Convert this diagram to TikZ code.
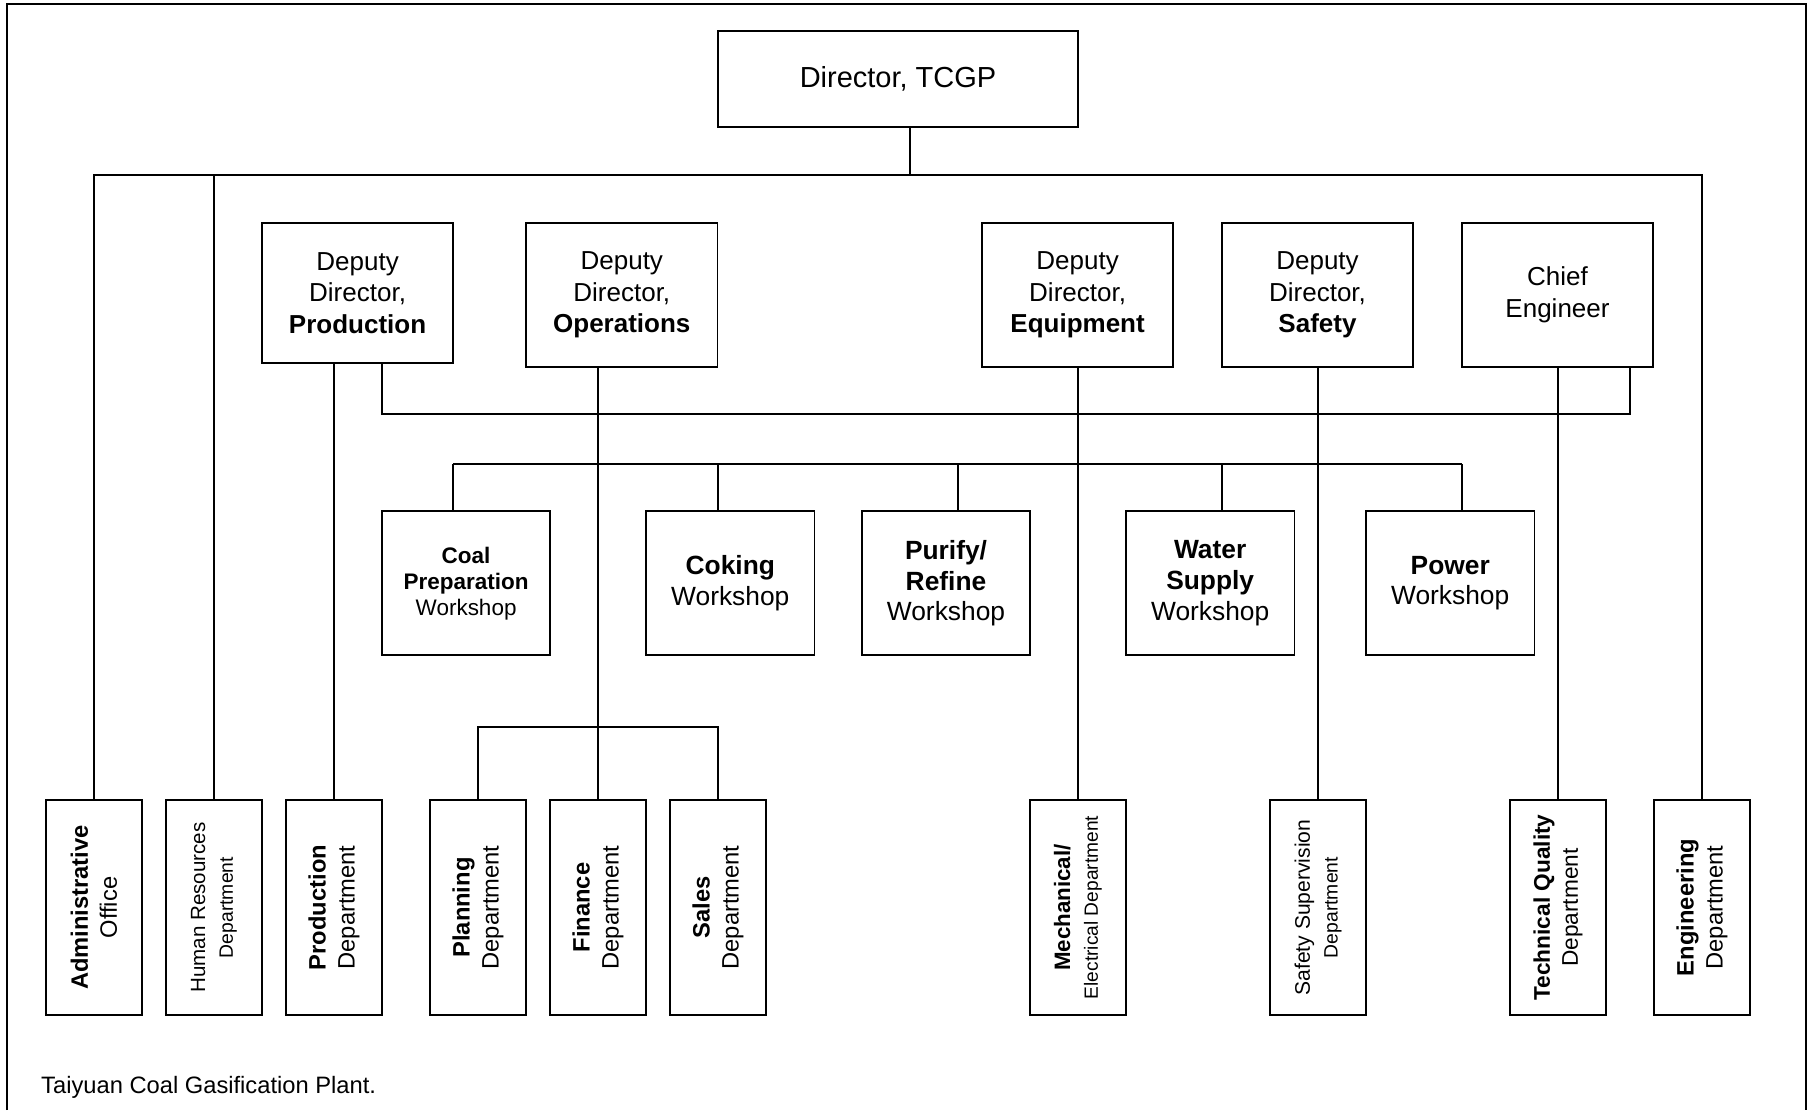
\documentclass[tikz,border=0pt]{standalone}
\usepackage{fontspec}
\setmainfont{Liberation Sans}
\usepackage{tikz}

\begin{document}
\begin{tikzpicture}[x=0.02cm, y=-0.02cm,
  box/.style={draw, line width=1pt, align=center, inner sep=0pt},
  head/.style={box, minimum width=7.2cm, minimum height=1.92cm, font=\fontsize{16.5}{20}\selectfont},
  deputy/.style={box, minimum width=3.83cm, minimum height=2.88cm, font=\fontsize{14.8}{18}\selectfont},
  shop/.style={box, minimum width=3.37cm, minimum height=2.88cm, font=\fontsize{15}{17.4}\selectfont},
  dept/.style={box, rotate=90, minimum width=4.3cm, minimum height=1.92cm, font=\fontsize{13.5}{16.5}\selectfont},
  link/.style={line width=0.7pt}]
     \useasboundingbox (0,0) rectangle (1809,1110);
     \draw [line width=1pt] (7,1110) -- (7,4) -- (1806,4) -- (1806,1110);
     % director and deputies
     \node [head] (dir) at (898,79) {Director, TCGP};
     \node [deputy, minimum height=2.81cm] (dprod) at (357.6,292.9) {Deputy\\Director,\\\textbf{Production}};
     \node [deputy] (dops) at (621.8,294.8) {Deputy\\Director,\\\textbf{Operations}};
     \node [deputy] (deqp) at (1077.6,294.8) {Deputy\\Director,\\\textbf{Equipment}};
     \node [deputy] (dsaf) at (1317.5,294.8) {Deputy\\Director,\\\textbf{Safety}};
     \node [deputy] (ceng) at (1557.5,294.8) {Chief\\Engineer};
     % workshops
     \node [shop, font=\fontsize{12.8}{14.8}\selectfont] (coal) at (466.1,583.2) {\textbf{Coal}\\\textbf{Preparation}\\Workshop};
     \node [shop] (coking) at (730.3,583.2) {\textbf{Coking}\\Workshop};
     \node [shop] (purify) at (946,583.2) {\textbf{Purify/}\\\textbf{Refine}\\Workshop};
     \node [shop] (water) at (1210.2,583.2) {\textbf{Water}\\\textbf{Supply}\\Workshop};
     \node [shop] (power) at (1450.2,583.2) {\textbf{Power}\\Workshop};
     % departments
     \node [dept] (admin) at (94,907.5) {\textbf{Administrative}\\Office};
     \node [dept, font=\fontsize{11.7}{15.8}\selectfont] (hr) at (214,907.5) {Human Resources\\{\fontsize{11}{15.8}\selectfont Department}};
     \node [dept] (pdept) at (334,907.5) {\textbf{Production}\\Department};
     \node [dept] (plan) at (478,907.5) {\textbf{Planning}\\Department};
     \node [dept] (fin) at (598,907.5) {\textbf{Finance}\\Department};
     \node [dept] (sales) at (718,907.5) {\textbf{Sales}\\Department};
     \node [dept, font=\fontsize{12.7}{15.8}\selectfont] (mech) at (1078,907.5) {\textbf{Mechanical/}\\{\fontsize{10.9}{15.8}\selectfont Electrical Department}};
     \node [dept, font=\fontsize{12}{15.8}\selectfont] (ssup) at (1318,907.5) {Safety Supervision\\{\fontsize{11}{15.8}\selectfont Department}};
     \node [dept, font=\fontsize{12.9}{15.8}\selectfont] (tq) at (1558,907.5) {\textbf{Technical Quality}\\Department};
     \node [dept] (eng) at (1702,907.5) {\textbf{Engineering}\\Department};
     \node [anchor=west, font=\fontsize{13.5}{16}\selectfont] (note) at (35,1087) {Taiyuan Coal Gasification Plant.};
     % connectors
     \coordinate (bus) at (910,175);
     \draw [link] (dir.south -| bus) -- (bus);
     \draw [link] (admin.east) -- (admin.east |- bus) -- (eng.east |- bus) -- (eng.east);
     \draw [link] (hr.east) -- (hr.east |- bus);
     \draw [link] (dprod.south -| pdept.east) -- (pdept.east);
     \coordinate (lnkL) at (382,414);
     \coordinate (lnkR) at (1630,414);
     \draw [link] (dprod.south -| lnkL) -- (lnkL) -- (lnkR) -- (ceng.south -| lnkR);
     \draw [link] (dops.south -| fin.east) -- (fin.east);
     \coordinate (obus) at (598,727);
     \draw [link] (plan.east) -- (plan.east |- obus) -- (sales.east |- obus) -- (sales.east);
     \draw [link] (deqp.south -| mech.east) -- (mech.east);
     \draw [link] (dsaf.south -| ssup.east) -- (ssup.east);
     \draw [link] (ceng.south -| tq.east) -- (tq.east);
     \draw [link] (453,464) -- (1462,464);
     \foreach \n/\x in {coal/453, coking/718, purify/958, water/1222, power/1462} {
       \coordinate (t) at (\x,464);
       \draw [link] (\n.north -| t) -- (t);
     }
\end{tikzpicture}
\end{document}
